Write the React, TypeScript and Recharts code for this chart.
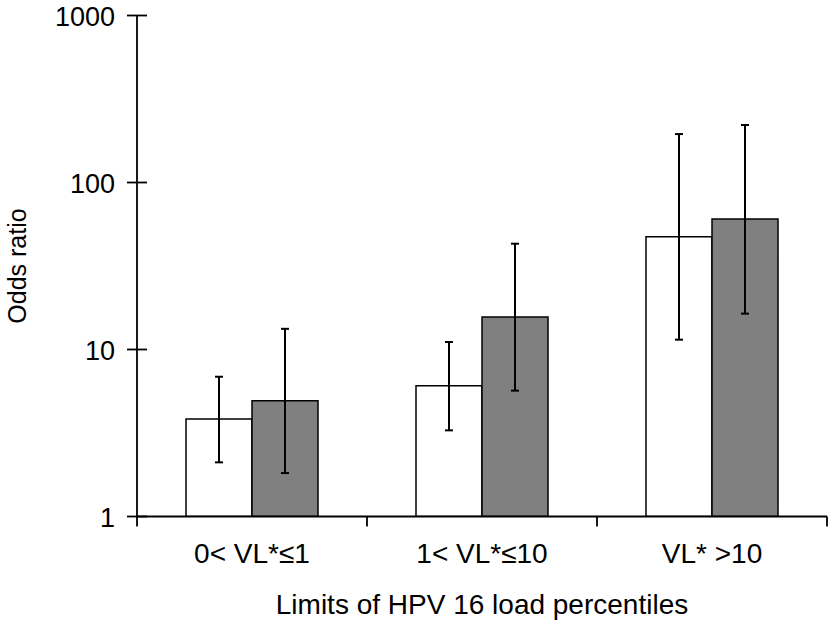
import React from 'react';
import { BarChart, Bar, XAxis, YAxis, ErrorBar, Label } from 'recharts';

const categories = ['0< VL*≤1', '1< VL*≤10', 'VL* >10'];
const seriesAOdds = [3.84, 6.07, 47.4];
const seriesALow = [2.11, 3.28, 11.45];
const seriesAHigh = [6.87, 11.09, 195];
const seriesBOdds = [4.94, 15.65, 60.4];
const seriesBLow = [1.82, 5.67, 16.4];
const seriesBHigh = [13.3, 43.0, 221];
const yTicks = [1, 10, 100, 1000];
const yTitle = 'Odds ratio';
const xTitle = 'Limits of HPV 16 load percentiles';

const data = categories.map((c, i) => ({
  category: c,
  a: seriesAOdds[i],
  aErr: [seriesAOdds[i] - seriesALow[i], seriesAHigh[i] - seriesAOdds[i]],
  b: seriesBOdds[i],
  bErr: [seriesBOdds[i] - seriesBLow[i], seriesBHigh[i] - seriesBOdds[i]],
}));

const W = 829;
const H = 622;
const AXIS_X = 137;
const PLOT_RIGHT = 827;
const PLOT_TOP = 15.5;
const PLOT_BOTTOM = 516.5;
const BAND = (PLOT_RIGHT - AXIS_X) / categories.length;
const FONT = "'Liberation Sans', Arial, Helvetica, sans-serif";

const YTick = (props: any) => {
  const { y, payload } = props;
  return (
    <g>
      <line x1={AXIS_X - 10} x2={AXIS_X + 10} y1={y} y2={y} stroke="#000" strokeWidth={1.8} />
      <text x={AXIS_X - 22} y={y + 10} textAnchor="end" fontSize={27} fontFamily={FONT} fill="#000">
        {payload.value}
      </text>
    </g>
  );
};

const XTick = (props: any) => {
  const { x, payload, index } = props;
  const half = BAND / 2;
  return (
    <g>
      <line x1={x - half} x2={x - half} y1={PLOT_BOTTOM} y2={PLOT_BOTTOM + 10} stroke="#000" strokeWidth={1.8} />
      {index === categories.length - 1 ? (
        <line x1={x + half} x2={x + half} y1={PLOT_BOTTOM} y2={PLOT_BOTTOM + 10} stroke="#000" strokeWidth={1.8} />
      ) : null}
      <text x={x} y={563} textAnchor="middle" fontSize={28} fontFamily={FONT} fill="#000">
        {payload.value}
      </text>
    </g>
  );
};

const YTitle = () => (
  <text
    transform={`translate(26,${(PLOT_TOP + PLOT_BOTTOM) / 2}) rotate(-90)`}
    textAnchor="middle"
    fontSize={25}
    fontFamily={FONT}
    fill="#000"
  >
    {yTitle}
  </text>
);

const XTitle = () => (
  <text
    x={(AXIS_X + PLOT_RIGHT) / 2}
    y={614}
    textAnchor="middle"
    fontSize={28}
    fontFamily={FONT}
    fill="#000"
  >
    {xTitle}
  </text>
);

export default function App() {
  return (
    <div style={{ position: 'absolute', left: 0, top: 0, width: W, height: H, background: '#fff' }}>
      <BarChart
        width={W}
        height={H}
        data={data}
        margin={{ top: PLOT_TOP, right: W - PLOT_RIGHT, bottom: 0, left: 0 }}
        barGap={0}
        barSize={66}
      >
        <XAxis
          dataKey="category"
          interval={0}
          height={H - PLOT_BOTTOM}
          tickLine={false}
          axisLine={{ stroke: '#000', strokeWidth: 1.8 }}
          tick={<XTick />}
        >
          <Label content={<XTitle />} />
        </XAxis>
        <YAxis
          type="number"
          scale="log"
          domain={[1, 1000]}
          ticks={yTicks}
          allowDataOverflow
          width={AXIS_X}
          tickLine={false}
          axisLine={{ stroke: '#000', strokeWidth: 1.8 }}
          tick={<YTick />}
        >
          <Label content={<YTitle />} />
        </YAxis>
        <Bar dataKey="a" name="Series A" fill="#ffffff" stroke="#000" strokeWidth={1.5} isAnimationActive={false}>
          <ErrorBar dataKey="aErr" width={4} strokeWidth={2} stroke="#000" direction="y" isAnimationActive={false} />
        </Bar>
        <Bar dataKey="b" name="Series B" fill="#808080" stroke="#000" strokeWidth={1.5} isAnimationActive={false}>
          <ErrorBar dataKey="bErr" width={4} strokeWidth={2} stroke="#000" direction="y" isAnimationActive={false} />
        </Bar>
      </BarChart>
    </div>
  );
}
